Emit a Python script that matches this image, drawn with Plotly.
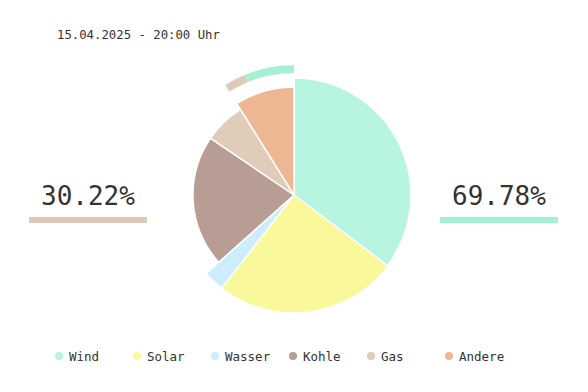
import plotly.graph_objects as go

# ---- data ----
title_text = "15.04.2025 - 20:00 Uhr"
categories = ["Wind", "Solar", "Wasser", "Kohle", "Gas", "Andere"]
shares = [35.3, 25.2, 2.9, 21.1, 6.6, 8.9]          # percent of total
slice_radius = [117, 118, 118, 101, 101, 108]       # radial length of each slice
colors = ["#b8f5e1", "#f9f99b", "#cdedfc", "#b89d95", "#dfcdb9", "#edb793"]
split_labels = ["erneuerbar", "fossil"]
split_values = [69.78, 30.22]
split_colors = ["#a6efd4", "#dec8b8"]

FONT = "DejaVu Sans Mono"
W, H = 588, 392
OFF = 8  # page body margin compensation
cx, cy = 294 - OFF, 195 - OFF
R_MAX = 130

# ---- polar geometry from data ----
total = sum(shares)
starts, widths, centers = [], [], []
acc = 0.0
for v in shares:
    w = v / total * 360.0
    starts.append(acc)
    widths.append(w)
    centers.append(acc + w / 2)
    acc += w

fig = go.Figure()
fig.add_trace(go.Barpolar(
    r=slice_radius, theta=centers, width=widths,
    marker=dict(color=colors, line=dict(color="white", width=1.5)),
    showlegend=False, hoverinfo="skip"))

# outer arc: split of the last slice range into the two shares (fossil first, then renewable)
a_start, a_width = starts[-1], widths[-1]
fossil_w = split_values[1] / 100 * a_width
renew_w = split_values[0] / 100 * a_width
fig.add_trace(go.Barpolar(
    r=[8, 8], base=[122, 122],
    theta=[a_start + fossil_w / 2, a_start + fossil_w + renew_w / 2],
    width=[fossil_w, renew_w],
    marker=dict(color=[split_colors[1], split_colors[0]], line=dict(width=0)),
    showlegend=False, hoverinfo="skip"))

# legend drawn as a row of markers on a hidden cartesian axis
fig.add_trace(go.Scatter(
    x=list(range(len(categories))), y=[0] * len(categories),
    mode="markers",
    marker=dict(color=colors, size=8, symbol="circle"),
    cliponaxis=False, showlegend=False, hoverinfo="skip"))
for i, name in enumerate(categories):
    fig.add_annotation(x=i, y=0, xref="x", yref="y", text=name, showarrow=False,
                       xanchor="left", yanchor="middle", xshift=8,
                       font=dict(family=FONT, size=12.5, color="#333333"))

step = 78
leg_x, leg_y = 59 - OFF, 356 - OFF
x0 = -leg_x / step
fig.update_layout(
    width=W, height=H,
    margin=dict(l=0, r=0, t=0, b=0),
    paper_bgcolor="white", plot_bgcolor="rgba(0,0,0,0)",
    showlegend=False,
    xaxis=dict(range=[x0, x0 + W / step], visible=False, fixedrange=True),
    yaxis=dict(range=[-(H - leg_y), leg_y], visible=False, fixedrange=True),
    polar=dict(
        domain=dict(x=[(cx - R_MAX) / W, (cx + R_MAX) / W],
                    y=[1 - (cy + R_MAX) / H, 1 - (cy - R_MAX) / H]),
        bgcolor="rgba(0,0,0,0)",
        radialaxis=dict(range=[0, R_MAX], visible=False),
        angularaxis=dict(direction="clockwise", rotation=90, visible=False),
        bargap=0,
    ),
)

# title
fig.add_annotation(x=(55 - OFF) / W, y=1 - (35 - OFF) / H, xref="paper", yref="paper",
                   text=title_text, showarrow=False, xanchor="left", yanchor="middle",
                   font=dict(family=FONT, size=12.3, color="#333333"))

# side percentages with underline bars
sides = [(88 - OFF, split_values[1], split_colors[1]), (499 - OFF, split_values[0], split_colors[0])]
for xc, val, col in sides:
    fig.add_annotation(x=xc / W, y=1 - (196 - OFF) / H, xref="paper", yref="paper",
                       text=f"{val:.2f}%", showarrow=False, xanchor="center", yanchor="middle",
                       font=dict(family=FONT, size=26, color="#333333"))
    fig.add_shape(type="rect", xref="paper", yref="paper",
                  x0=(xc - 59) / W, x1=(xc + 59) / W,
                  y0=1 - (223 - OFF) / H, y1=1 - (217 - OFF) / H,
                  fillcolor=col, line=dict(width=0))

fig.write_html("out.html")
